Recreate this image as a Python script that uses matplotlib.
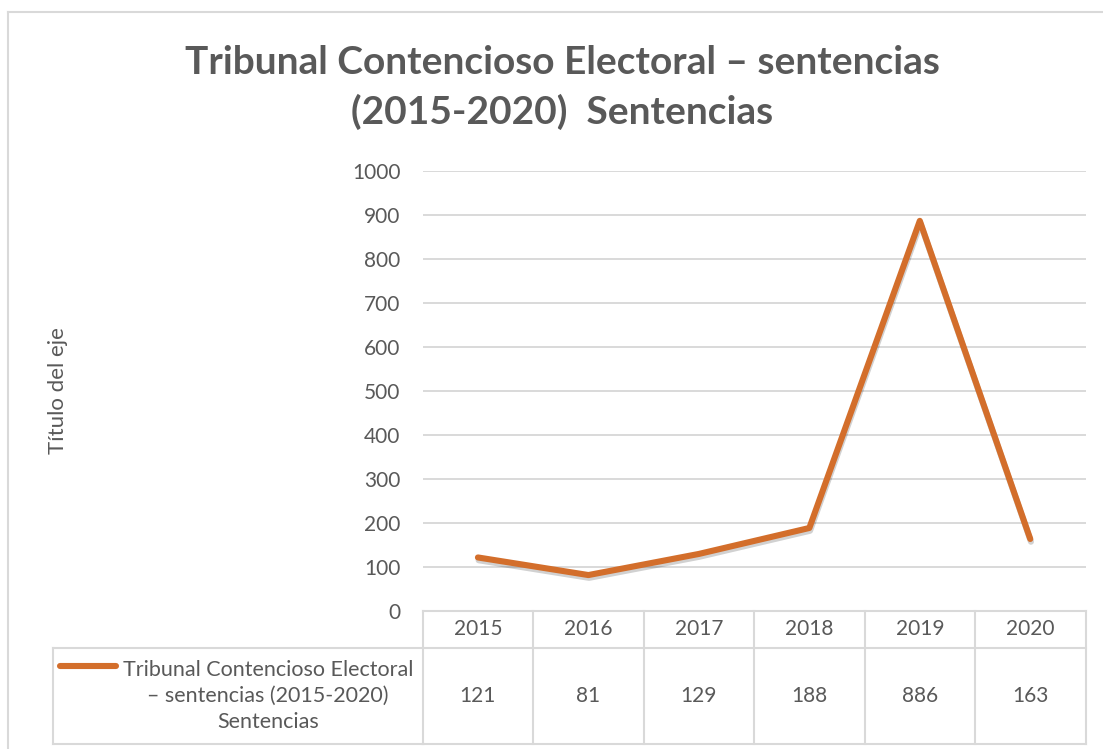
import matplotlib
matplotlib.use("Agg")
import matplotlib.pyplot as plt
import matplotlib.transforms as mtransforms
import matplotlib.patheffects as pe

years = ["2015", "2016", "2017", "2018", "2019", "2020"]
sentencias = [121, 81, 129, 188, 886, 163]
title_lines = ["Tribunal Contencioso Electoral – sentencias", "(2015-2020)  Sentencias"]
series_label = "Tribunal Contencioso Electoral\n– sentencias (2015-2020)\nSentencias"
y_label = "Título del eje"
y_ticks = list(range(0, 1001, 100))

W, H = 1103, 749
TXT = "#595959"
GRID = "#D9D9D9"
LINE = "#D36E2B"
FONT = "Lato"

plt.rcParams["font.family"] = [FONT, "DejaVu Sans"]
fig = plt.figure(figsize=(W / 100, H / 100), dpi=100)

def fx(px):
    return px / W

def fy(py):
    return 1 - py / H

# outer chart border (top and left visible)
fig.add_artist(plt.Line2D([fx(8), fx(8)], [fy(12), 0], color=GRID, lw=1.5))
fig.add_artist(plt.Line2D([fx(8), 1], [fy(12), fy(12)], color=GRID, lw=1.5))

left, right, top, bottom = 422.7, 1085.5, 170.7, 610.7
ax = fig.add_axes([fx(left), fy(bottom), fx(right - left), (bottom - top) / H])
n = len(years)
x = list(range(n))
ax.set_xlim(-0.5, n - 0.5)
ax.set_ylim(0, 1000)
ax.set_yticks(y_ticks)
ax.set_yticklabels([str(t) for t in y_ticks])
ax.set_xticks([])
for s in ax.spines.values():
    s.set_visible(False)
ax.tick_params(axis="y", length=0, pad=16, labelsize=15, labelcolor=TXT)
ax.yaxis.grid(True, color=GRID, lw=1.4)
ax.set_axisbelow(True)

ax.plot(x, sentencias, color=LINE, lw=4.4, solid_capstyle="round", solid_joinstyle="round",
        path_effects=[pe.SimpleLineShadow(offset=(0.5, -2), shadow_color="black", alpha=0.18),
                      pe.Normal()], zorder=3)

# title (two lines)
for yy, line in zip([62, 112], title_lines):
    fig.text(fx(562), fy(yy), line, ha="center", va="center", fontsize=28, fontweight="bold",
             color=TXT)

# axis title
fig.text(fx(58), fy(391), y_label, rotation=90, ha="center", va="center", fontsize=16, color=TXT)

# data table
blend = mtransforms.blended_transform_factory(ax.transData, fig.transFigure)
row1_top, row1_bot, row2_bot = 610.7, 648.0, 744.0
leg_left = 52.5
tk = dict(color=GRID, lw=1.5, clip_on=False, zorder=1)
# horizontal lines
ax.plot([-0.5, n - 0.5], [fy(row1_top)] * 2, transform=blend, **tk)
ax.plot([-0.5, n - 0.5], [fy(row2_bot)] * 2, transform=blend, **tk)
fig.add_artist(plt.Line2D([fx(leg_left), fx(right)], [fy(row1_bot)] * 2, **tk))
fig.add_artist(plt.Line2D([fx(leg_left), fx(left)], [fy(row2_bot)] * 2, **tk))
fig.add_artist(plt.Line2D([fx(leg_left)] * 2, [fy(row1_bot), fy(row2_bot)], **tk))
for i in range(n + 1):
    ax.plot([i - 0.5] * 2, [fy(row1_top), fy(row2_bot)], transform=blend, **tk)
for i, (yr, v) in enumerate(zip(years, sentencias)):
    ax.text(i, fy((row1_top + row1_bot) / 2), yr, transform=blend, ha="center", va="center",
            fontsize=15, color=TXT)
    ax.text(i, fy((row1_bot + row2_bot) / 2), str(v), transform=blend, ha="center", va="center",
            fontsize=15, color=TXT)

# legend key
fig.add_artist(plt.Line2D([fx(60), fx(116)], [fy(666)] * 2, color=LINE, lw=4.4,
                          solid_capstyle="round"))
fig.text(fx(268), fy(696), series_label, ha="center", va="center", fontsize=15.5, color=TXT,
         linespacing=1.35)

fig.savefig("out.png", dpi=100)
